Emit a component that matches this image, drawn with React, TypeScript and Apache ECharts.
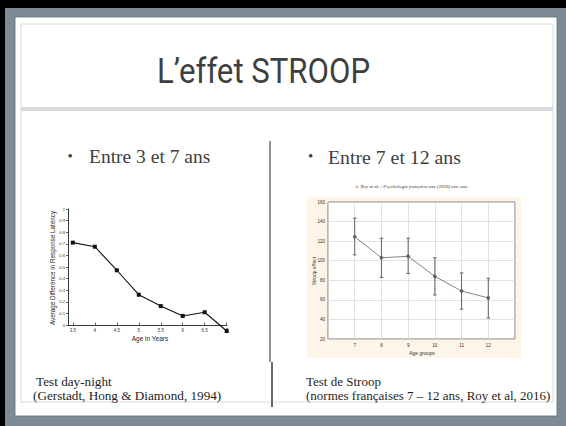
import React, { useEffect, useRef } from "react";
import * as echarts from "echarts";

// Left figure: day-night test (Gerstadt, Hong & Diamond, 1994)
const dayNightAges = [3.5, 4, 4.5, 5, 5.5, 6, 6.5, 7];
const dayNightLatency = [0.71, 0.675, 0.472, 0.261, 0.163, 0.078, 0.11, -0.052];
const dayNightXTicks = [3.5, 4, 4.5, 5, 5.5, 6, 6.5, 7];

// Right figure: Stroop effect by age group (Roy et al., 2016)
const stroopAges = [7, 8, 9, 10, 11, 12];
const stroopMeans = [124.5, 103, 104.5, 84, 69, 62];
const stroopLow = [106, 83, 87, 65, 50.5, 41.5];
const stroopHigh = [143.5, 123, 123, 103, 87.5, 82];

const SERIF = "'Liberation Serif', 'Times New Roman', serif";
const SANS = "'Liberation Sans', Arial, sans-serif";

function txt(text: string, x: number, y: number, size: number, family: string, fill: string, align = "left", extra: any = {}) {
  return {
    type: "text",
    x,
    y,
    z: 10,
    silent: true,
    ...extra,
    style: {
      text,
      x: 0,
      y: 0,
      fontSize: size,
      fontFamily: family,
      fill,
      align,
      textAlign: align,
      verticalAlign: "middle",
      textVerticalAlign: "middle",
      ...(extra.style || {}),
    },
  };
}

export default function App() {
  const ref = useRef<HTMLDivElement>(null);
  useEffect(() => {
    if (!ref.current) return;
    const chart = echarts.init(ref.current, undefined, { renderer: "svg" });

    const bg = [
      { type: "rect", z: -10, silent: true, shape: { x: 0, y: 0, width: 566, height: 426 }, style: { fill: "#000" } },
      { type: "rect", z: -9, silent: true, shape: { x: 5, y: 8, width: 561, height: 418 }, style: { fill: "#7c8b94" } },
      { type: "rect", z: -8, silent: true, shape: { x: 15, y: 17, width: 542, height: 399 }, style: { fill: "#ffffff", stroke: "#5f6d75", lineWidth: 0.8 } },
      { type: "rect", z: -7, silent: true, shape: { x: 21, y: 24, width: 532, height: 378 }, style: { fill: "#ffffff", stroke: "#d9dcd8", lineWidth: 1 } },
      { type: "rect", z: -6, silent: true, shape: { x: 21, y: 107, width: 532, height: 4 }, style: { fill: "#d6dada" } },
      { type: "rect", z: -6, silent: true, shape: { x: 307, y: 197, width: 214, height: 161 }, style: { fill: "#fdf5e8" } },
      { type: "line", z: -5, silent: true, shape: { x1: 270, y1: 141, x2: 270, y2: 362 }, style: { stroke: "#5d6a72", lineWidth: 1.4 } },
      { type: "line", z: -5, silent: true, shape: { x1: 272, y1: 362, x2: 272, y2: 407 }, style: { stroke: "#5d6a72", lineWidth: 2 } },
    ];

    const texts = [
      txt("L\u2019effet STROOP", 263.5, 71, 35, "Roboto, 'Liberation Sans', sans-serif", "#3f3f3f", "center", { scaleX: 0.89 }),
      txt("\u2022", 70, 156, 15, SERIF, "#404040", "center"),
      txt("Entre 3 et 7 ans", 89, 156.5, 19.5, SERIF, "#404040"),
      txt("\u2022", 310.5, 156, 15, SERIF, "#404040", "center"),
      txt("Entre 7 et 12 ans", 328, 156.5, 19.8, SERIF, "#404040"),
      txt(" Test day-night", 33, 381, 13.2, SERIF, "#1e1e1e"),
      txt("(Gerstadt, Hong & Diamond, 1994)", 33, 395, 13.2, SERIF, "#1e1e1e"),
      txt("Test de Stroop", 306, 381, 13, SERIF, "#1e1e1e"),
      txt("(normes fran\u00e7aises 7 \u2013 12 ans, Roy et al, 2016)", 306, 395, 13, SERIF, "#1e1e1e"),
      txt("A. Roy et al. / Psychologie fran\u00e7aise xxx (2016) xxx\u2013xxx", 411, 186, 5, SERIF, "#333", "center", { style: { fontStyle: "italic" } }),
      txt("Average Difference in Response Latency", 52.5, 268, 6.3, SANS, "#222", "center", { rotation: Math.PI / 2 }),
      txt("Age in Years", 150, 338, 6.5, SANS, "#222", "center"),
      txt("Stroop effect", 314, 271, 5, SANS, "#333", "center", { rotation: Math.PI / 2 }),
      txt("Age groups", 422, 353, 5, SANS, "#333", "center"),
    ];

    const option: any = {
      animation: false,
      graphic: { elements: [...bg, ...texts] },
      grid: [
        { left: 68, top: 209, width: 158.7, height: 116 },
        { left: 328, top: 202, width: 187, height: 137, show: true, backgroundColor: "#ffffff", borderColor: "#555", borderWidth: 0.8 },
      ],
      xAxis: [
        {
          gridIndex: 0,
          type: "value",
          min: 3.39,
          max: 7,
          axisLine: { show: true, onZero: false, lineStyle: { color: "#222", width: 0.9 } },
          axisTick: { show: true, inside: true, length: 2.5, customValues: dayNightXTicks, lineStyle: { color: "#222", width: 0.7 } },
          axisLabel: { show: true, customValues: dayNightXTicks, fontSize: 4.5, color: "#333", margin: 3, fontFamily: SANS, formatter: (v: number) => String(v) },
          splitLine: { show: false },
        },
        {
          gridIndex: 1,
          type: "value",
          min: 6,
          max: 13,
          interval: 1,
          axisLine: { show: false },
          axisTick: { show: false },
          axisLabel: {
            fontSize: 4.5,
            color: "#333",
            margin: 4,
            fontFamily: SANS,
            formatter: (v: number) => (v === 6 || v === 13 ? "" : String(v)),
          },
          splitLine: { show: true, lineStyle: { color: "#d4d4d4", width: 0.7 } },
        },
      ],
      yAxis: [
        {
          gridIndex: 0,
          type: "value",
          min: 0,
          max: 1,
          interval: 0.1,
          axisLine: { show: true, lineStyle: { color: "#222", width: 0.9 } },
          axisTick: { show: true, length: 2, lineStyle: { color: "#222", width: 0.7 } },
          axisLabel: { fontSize: 4.2, color: "#333", margin: 3, fontFamily: SANS, formatter: (v: number) => (v === 0 ? "0" : v === 1 ? "1" : v.toFixed(1)) },
          splitLine: { show: false },
        },
        {
          gridIndex: 1,
          type: "value",
          min: 20,
          max: 160,
          interval: 20,
          axisLine: { show: false },
          axisTick: { show: false },
          axisLabel: { fontSize: 4.5, color: "#333", margin: 3, fontFamily: SANS },
          splitLine: { show: true, lineStyle: { color: "#d4d4d4", width: 0.7 } },
        },
      ],
      series: [
        {
          type: "line",
          xAxisIndex: 0,
          yAxisIndex: 0,
          clip: false,
          data: dayNightAges.map((a, i) => [a, dayNightLatency[i]]),
          symbol: "rect",
          symbolSize: 4,
          itemStyle: { color: "#111" },
          lineStyle: { color: "#111", width: 1.1 },
          z: 5,
        },
        {
          type: "custom",
          xAxisIndex: 1,
          yAxisIndex: 1,
          data: stroopAges.map((a, i) => [a, stroopLow[i], stroopHigh[i]]),
          encode: { x: 0, y: [1, 2] },
          renderItem: (params: any, api: any) => {
            const x = api.value(0);
            const lo = api.coord([x, api.value(1)]);
            const hi = api.coord([x, api.value(2)]);
            const c = 1.8;
            const st = { stroke: "#555", lineWidth: 0.9 };
            return {
              type: "group",
              children: [
                { type: "line", shape: { x1: lo[0], y1: lo[1], x2: hi[0], y2: hi[1] }, style: st },
                { type: "line", shape: { x1: lo[0] - c, y1: lo[1], x2: lo[0] + c, y2: lo[1] }, style: st },
                { type: "line", shape: { x1: hi[0] - c, y1: hi[1], x2: hi[0] + c, y2: hi[1] }, style: st },
              ],
            };
          },
          z: 4,
        },
        {
          type: "line",
          xAxisIndex: 1,
          yAxisIndex: 1,
          data: stroopAges.map((a, i) => [a, stroopMeans[i]]),
          symbol: "circle",
          symbolSize: 3,
          itemStyle: { color: "#666", borderColor: "#444", borderWidth: 0.6 },
          lineStyle: { color: "#777", width: 0.9 },
          z: 5,
        },
      ],
    };
    chart.setOption(option);
    return () => chart.dispose();
  }, []);
  return <div ref={ref} style={{ position: "absolute", left: 0, top: 0, width: 566, height: 426 }} />;
}
